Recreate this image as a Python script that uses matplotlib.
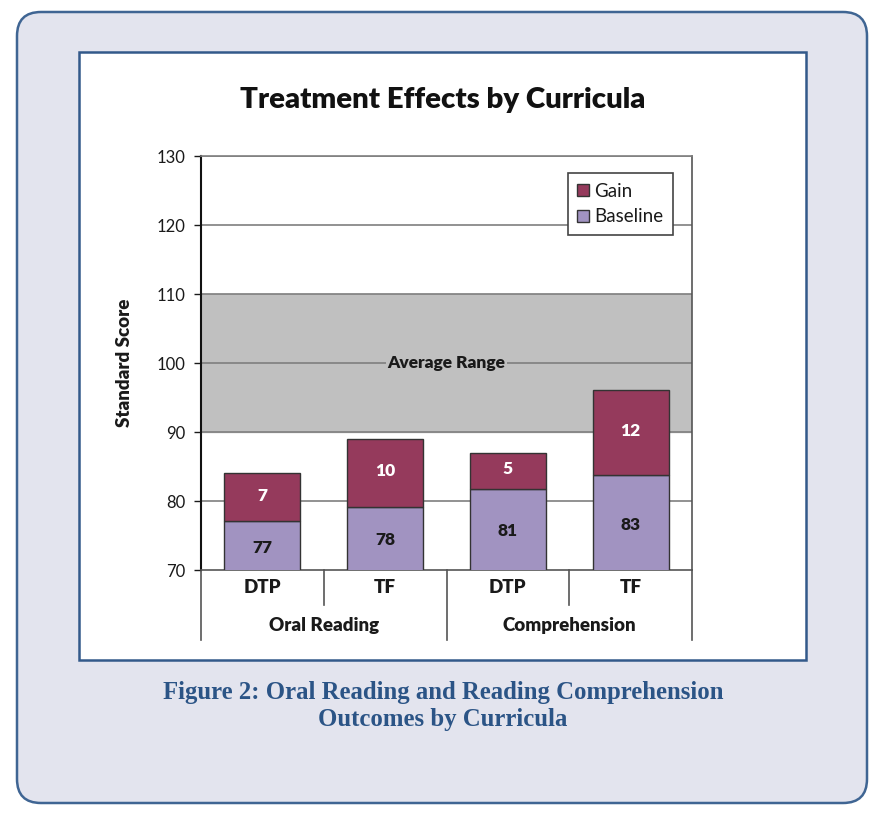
import numpy as np
import matplotlib.pyplot as plt
from matplotlib.patches import FancyBboxPatch, Rectangle

# donnees
categories = ['DTP', 'TF', 'DTP', 'TF']
groupes = ['Oral Reading', 'Comprehension']
baseline = [77.1, 79.2, 81.8, 83.7]
gain = [6.9, 9.8, 5.2, 12.4]
baseline_labels = ['77', '78', '81', '83']
gain_labels = ['7', '10', '5', '12']
average_range = (90, 110)

color_gain = '#953a5c'
color_base = '#a193c1'
bleu = '#33598a'
police = 'Lato'
gras = 'heavy'

fig = plt.figure(figsize=(8.89, 8.13), dpi=100)

# fond : cadre arrondi + panneau blanc (coordonnees en pixels)
fond = fig.add_axes([0, 0, 1, 1])
fond.set_xlim(0, 889)
fond.set_ylim(813, 0)
fond.axis('off')
fond.add_patch(FancyBboxPatch((17, 12), 850, 791, boxstyle='round,pad=0,rounding_size=24',
                              facecolor='#e3e4ee', edgecolor='#3f6593', linewidth=1.8))
fond.add_patch(Rectangle((79, 52), 727, 608, facecolor='white', edgecolor=bleu, linewidth=1.8))

ax = fig.add_axes([201 / 889, 1 - 570 / 813, 491 / 889, 414 / 813])
x = np.arange(len(categories))

ax.axhspan(average_range[0], average_range[1], color='#c0c0c0', zorder=0)
for yv in [80, 90, 100, 110, 120, 130]:
    ax.axhline(yv, color='#7f7f7f', linewidth=1.2, zorder=1)

ax.bar(x, baseline, width=0.62, bottom=0, color=color_base, edgecolor='#333333', linewidth=1.0,
       zorder=3, label='Baseline')
ax.bar(x, gain, width=0.62, bottom=baseline, color=color_gain, edgecolor='#333333', linewidth=1.0,
       zorder=3, label='Gain')

for i in range(len(x)):
    ax.text(x[i], 70 + (baseline[i] - 70) / 2 - 0.3, baseline_labels[i], ha='center', va='center',
            fontsize=12.5, fontweight=gras, color='#1a1a1a', family=police, zorder=4)
    ax.text(x[i], baseline[i] + gain[i] / 2 + 0.2, gain_labels[i], ha='center', va='center',
            fontsize=12.5, fontweight=gras, color='white', family=police, zorder=4)

ax.text(1.5, 100, 'Average Range', ha='center', va='center', fontsize=12.5, fontweight=gras,
        color='#1a1a1a', family=police, zorder=2,
        bbox=dict(facecolor='#c0c0c0', edgecolor='none', pad=1))

ax.set_xlim(-0.5, 3.5)
ax.set_ylim(70, 130)
ax.set_yticks([70, 80, 90, 100, 110, 120, 130])
ax.set_xticks([])
ax.tick_params(axis='y', direction='out', length=5, width=1, labelsize=12, colors='#1a1a1a', pad=6)
for lab in ax.get_yticklabels():
    lab.set_family(police)

ax.spines['left'].set_color('#111111')
ax.spines['left'].set_linewidth(1.5)
ax.spines['right'].set_color('#555555')
ax.spines['top'].set_color('#7f7f7f')
ax.spines['bottom'].set_color('#555555')
for s in ['right', 'top', 'bottom']:
    ax.spines[s].set_linewidth(1.2)

ax.set_ylabel('Standard Score', fontsize=13.5, fontweight=gras, family=police, labelpad=17,
              color='#1a1a1a')

# axe des categories a deux niveaux
for xs in [-0.5, 1.5, 3.5]:
    ax.plot([xs, xs], [70, 59.9], color='#555555', linewidth=1.2, clip_on=False)
for xs in [0.5, 2.5]:
    ax.plot([xs, xs], [70, 64.9], color='#555555', linewidth=1.2, clip_on=False)
for i in range(len(categories)):
    ax.text(x[i], 67.4, categories[i], ha='center', va='center', fontsize=13.5, fontweight=gras,
            family=police, color='#1a1a1a')
for j in range(len(groupes)):
    ax.text(0.5 + 2 * j, 62.0, groupes[j], ha='center', va='center', fontsize=13.5,
            fontweight=gras, family=police, color='#1a1a1a')

h, l = ax.get_legend_handles_labels()
leg = ax.legend(h[::-1], l[::-1], loc='upper right', bbox_to_anchor=(0.961, 0.958),
                fancybox=False, edgecolor='#444444', framealpha=1, fontsize=13.5,
                handlelength=0.6, handleheight=0.6, handletextpad=0.3, borderpad=0.5,
                labelspacing=0.45, borderaxespad=0)
leg.get_frame().set_linewidth(1.2)
for t in leg.get_texts():
    t.set_family(police)
    t.set_color('#1a1a1a')

fig.text(443 / 889, 1 - 100 / 813, 'Treatment Effects by Curricula', ha='center', va='center',
         fontsize=21.2, fontweight=gras, family=police, color='#111111')

fig.text(443 / 889, 1 - 706 / 813, 'Figure 2: Oral Reading and Reading Comprehension\nOutcomes by Curricula',
         ha='center', va='center', fontsize=17.8, fontweight='bold', family='Liberation Serif',
         color='#2b5486', linespacing=1.25)

plt.savefig('out.png', dpi=100)
